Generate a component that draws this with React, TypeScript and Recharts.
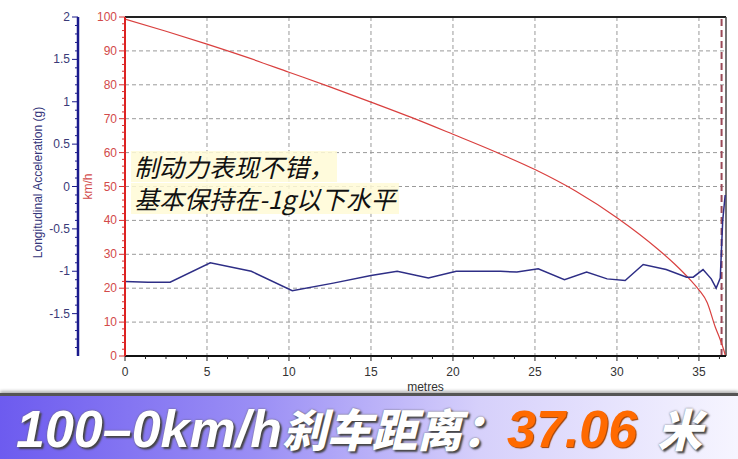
import React from "react";
import {
  LineChart,
  Line,
  XAxis,
  YAxis,
  CartesianGrid,
  ReferenceLine,
} from "recharts";

// speed (km/h) vs distance (m)
const speedDist = [0, 2.5, 5, 7.5, 10, 12.5, 15, 17.5, 20, 22.5, 25, 27.5, 30, 32.5, 33.5, 34.5, 35, 35.5, 36, 36.3, 36.5, 36.62];
const speedKmh = [99.4, 95.8, 92, 88, 83.7, 79.4, 74.9, 70.3, 65.4, 60.4, 55, 48.6, 40.8, 31.5, 27.2, 22.3, 19.5, 15.8, 8.5, 4.8, 2, 0];

// longitudinal acceleration (g) vs distance (m)
const accDist = [0, 1.4, 2.75, 5.2, 7.7, 10.2, 12.7, 15, 16.6, 18.5, 20.2, 22.9, 23.9, 25.2, 26.8, 28.15, 29.4, 30.5, 31.6, 33, 34.25, 34.65, 35.25, 35.75, 36.05, 36.3, 36.45, 36.6];
const accG = [-1.12, -1.13, -1.13, -0.9, -1.0, -1.23, -1.14, -1.05, -1.0, -1.08, -1.0, -1.0, -1.01, -0.97, -1.1, -1.01, -1.09, -1.11, -0.92, -0.98, -1.07, -1.07, -0.98, -1.09, -1.2, -1.08, -0.4, -0.1];

const X_MAJOR = [0, 5, 10, 15, 20, 25, 30, 35];
const KMH_MAJOR = [0, 10, 20, 30, 40, 50, 60, 70, 80, 90, 100];
const G_MAJOR = [-1.5, -1, -0.5, 0, 0.5, 1, 1.5, 2];

const X_MAX = 36.65;
const STOP_MARK = 36.38;

// minor tick positions
const X_TICKS = Array.from({ length: 30 }, (_, i) => i * 1.25);
const KMH_TICKS = Array.from({ length: 51 }, (_, i) => i * 2);
const G_TICKS = Array.from({ length: 41 }, (_, i) => Math.round((-2 + i * 0.1) * 10) / 10);

const speedData = speedDist.map((m, i) => ({ m, v: speedKmh[i] }));
const accData = accDist.map((m, i) => ({ m, g: accG[i] }));

const isIn = (arr: number[], v: number) => arr.some((a) => Math.abs(a - v) < 1e-6);

const GTick = (props: any) => {
  const { x, y, payload } = props;
  const v = payload.value;
  const major = isIn(G_MAJOR, v);
  if (v <= -2) return <g />;
  return (
    <g>
      <line x1={x - (major ? 6 : 3)} x2={x} y1={y} y2={y} stroke="#1b1b8a" />
      {major && (
        <text x={x - 8} y={y} dy={4} textAnchor="end" fontSize={12} fill="#3a3a78" fontFamily="Liberation Sans, Arial">
          {v}
        </text>
      )}
    </g>
  );
};

const KmhTick = (props: any) => {
  const { x, y, payload } = props;
  const v = payload.value;
  const major = isIn(KMH_MAJOR, v);
  return (
    <g>
      <line x1={x - (major ? 6 : 3)} x2={x} y1={y} y2={y} stroke="#d83030" />
      {major && (
        <text x={x - 8} y={y} dy={4} textAnchor="end" fontSize={12} fill="#d24a4a" fontFamily="Liberation Sans, Arial">
          {v}
        </text>
      )}
    </g>
  );
};

const XTick = (props: any) => {
  const { x, y, payload } = props;
  const v = payload.value;
  const major = isIn(X_MAJOR, v);
  return (
    <g>
      <line x1={x} x2={x} y1={y} y2={y + (major ? 5 : 3)} stroke="#222" />
      {major && (
        <text x={x} y={y + 20} textAnchor="middle" fontSize={12} fill="#333" fontFamily="Liberation Sans, Arial">
          {v}
        </text>
      )}
    </g>
  );
};

const cjk: React.CSSProperties = { fontFamily: "'Noto Sans CJK SC', sans-serif", fontSize: 45 };
const note: React.CSSProperties = {
  display: "inline-block",
  height: 31,
  lineHeight: "31px",
  background: "rgba(255,250,214,0.85)",
  padding: "0 3px",
};

export default function App() {
  return (
    <div style={{ position: "absolute", left: 0, top: 0, width: 738, height: 459, background: "#fff", overflow: "hidden" }}>
      <LineChart width={738} height={393} margin={{ top: 17, right: 12, left: 0, bottom: 0 }}>
        <CartesianGrid
          xAxisId="x"
          yAxisId="kmh"
          stroke="#9a9a9a"
          strokeDasharray="4 3"
          horizontalValues={KMH_MAJOR.slice(1, -1)}
          verticalValues={X_MAJOR.slice(1)}
        />
        <XAxis
          xAxisId="x"
          dataKey="m"
          type="number"
          domain={[0, X_MAX]}
          ticks={X_TICKS}
          interval={0}
          allowDataOverflow
          height={37}
          tickSize={0}
          tickMargin={0}
          tickLine={false}
          tick={<XTick />}
          axisLine={{ stroke: "#111", strokeWidth: 2 }}
          label={{ value: "metres", position: "insideBottom", offset: 2, fontSize: 12, fill: "#333", fontFamily: "Liberation Sans, Arial" }}
        />
        <YAxis
          yAxisId="kmh"
          orientation="left"
          width={47}
          type="number"
          domain={[0, 100]}
          ticks={KMH_TICKS}
          interval={0}
          tickSize={0}
          tickMargin={0}
          tickLine={false}
          tick={<KmhTick />}
          axisLine={{ stroke: "#dd2222", strokeWidth: 2 }}
          label={{
            content: ({ viewBox }: any) => (
              <text
                x={viewBox.x + 10}
                y={viewBox.y + viewBox.height / 2}
                transform={`rotate(-90 ${viewBox.x + 10} ${viewBox.y + viewBox.height / 2})`}
                textAnchor="middle"
                dy={4}
                fontSize={12}
                fill="#d24a4a"
                fontFamily="Liberation Sans, Arial"
              >
                km/h
              </text>
            ),
          }}
        />
        <YAxis
          yAxisId="zg"
          orientation="left"
          width={78}
          type="number"
          domain={[-2, 2]}
          ticks={G_TICKS}
          interval={0}
          tickSize={0}
          tickMargin={0}
          tickLine={false}
          tick={<GTick />}
          axisLine={{ stroke: "#1a1a8c", strokeWidth: 2.5 }}
          label={{
            content: ({ viewBox }: any) => (
              <text
                x={viewBox.x + 38}
                y={viewBox.y + viewBox.height / 2 - 4}
                transform={`rotate(-90 ${viewBox.x + 38} ${viewBox.y + viewBox.height / 2 - 4})`}
                textAnchor="middle"
                dy={4}
                fontSize={12}
                fill="#35357a"
                fontFamily="Liberation Sans, Arial"
              >
                Longitudinal Acceleration (g)
              </text>
            ),
          }}
        />
        <ReferenceLine xAxisId="x" yAxisId="kmh" y={100} stroke="#222" strokeWidth={2} />
        <ReferenceLine xAxisId="x" yAxisId="kmh" x={X_MAX} stroke="#444" strokeWidth={1.5} />
        <ReferenceLine xAxisId="x" yAxisId="kmh" x={STOP_MARK} stroke="#9a4a58" strokeWidth={2} strokeDasharray="7 4" />
        <Line
          xAxisId="x"
          yAxisId="kmh"
          data={speedData}
          dataKey="v"
          type="monotone"
          stroke="#d9403f"
          strokeWidth={1.2}
          dot={false}
          isAnimationActive={false}
        />
        <Line
          xAxisId="x"
          yAxisId="zg"
          data={accData}
          dataKey="g"
          type="linear"
          stroke="#2e2e86"
          strokeWidth={1.5}
          dot={false}
          isAnimationActive={false}
        />
      </LineChart>

      <div
        style={{
          position: "absolute",
          left: 131,
          top: 150,
          fontFamily: "'Noto Sans CJK SC', sans-serif",
          fontSize: 25,
          lineHeight: "32px",
          fontStyle: "italic",
          color: "#111",
        }}
      >
        <div style={{ height: 32 }}><span style={note}>制动力表现不错，</span></div>
        <div style={{ height: 32 }}><span style={note}>基本保持在-1g以下水平</span></div>
      </div>

      <div
        style={{
          position: "absolute",
          left: 0,
          top: 393,
          width: 738,
          height: 66,
          borderTop: "3px solid #555",
          boxShadow: "0 -2px 3px rgba(0,0,0,0.3)",
          background: "linear-gradient(90deg, #6d5bef 0%, #9b8ff5 35%, #d6d0fb 65%, #f6f5ff 100%)",
          boxSizing: "border-box",
        }}
      >
        <div
          style={{
            position: "absolute",
            left: 16,
            top: 3,
            whiteSpace: "nowrap",
            fontFamily: "'Liberation Sans', Arial, sans-serif",
            fontWeight: 900,
            fontStyle: "italic",
            fontSize: 52,
            lineHeight: "58px",
            color: "#fff",
            textShadow: "2px 2px 2px #444, 0 0 2px #666",
          }}
        >
          100–0km/h<span style={cjk}>刹车距离：</span>
          <span style={{ color: "#ff6a00", textShadow: "1px 1px 1px #a04000" }}>37.06</span>
          <span style={{ ...cjk, marginLeft: 20 }}>米</span>
        </div>
      </div>
    </div>
  );
}
